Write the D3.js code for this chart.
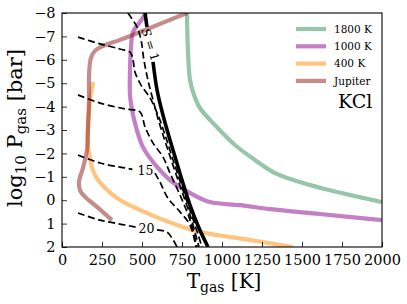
<!DOCTYPE html>
<html><head><meta charset="utf-8">
<script src="https://cdn.jsdelivr.net/npm/d3@7"></script>
<style>body{margin:0;background:#fff}svg{display:block}text{font-family:"DejaVu Serif","Liberation Serif",serif;fill:#000}</style>
</head><body><svg id="c" width="407" height="304"></svg>
<script>
// ---- data (T in K, log10 p in bar) ----
const xTicks=[0,250,500,750,1000,1250,1500,1750,2000];
const yTicks=[-8,-7,-6,-5,-4,-3,-2,-1,0,1,2];
const seriesNames=["1800 K","1000 K","400 K","Jupiter"];
const seriesColors=["#2e8b57","#8b008b","#ff8c00","#8b1a1a"];

const t1800=[781,787,800,825,862,956,1081,1206,1331,1550,1719,2000];
const p1800=[-8,-6.42,-5.14,-4.5,-3.94,-3.21,-2.36,-1.72,-1.16,-0.65,-0.35,0.08];

const t1000=[525,488,444,431,425,425,438,456,506,594,675,800,925,1112,1300,1612,2000];
const p1000=[-8,-7.62,-7.19,-6.5,-5.56,-4.5,-3.85,-3.3,-2.27,-1.42,-0.86,-0.31,0.08,0.21,0.38,0.59,0.85];

const t400=[194,175,162,162,181,206,269,362,531,719,862,1175,1444];
const p400=[-5.05,-4.28,-3.0,-2.36,-1.59,-1.08,-0.52,-0.01,0.55,1.06,1.36,1.7,2.0];

const tJup=[781,550,362,256,206,181,169,169,162,156,131,106,112,144,206,312];
const pJup=[-8,-7.36,-6.85,-6.59,-6.38,-6.08,-5.35,-4.28,-3.0,-2.15,-1.38,-0.78,-0.44,-0.14,0.21,0.85];

// S = 1 (thick solid), split around its label
const tS1a=[519,531];             const pS1a=[-8,-7.4];
const tS1b=[569,594,631,675,712.5,750,800,856,912.5];
const pS1b=[-5.91,-4.71,-3.64,-2.57,-1.72,-0.86,0.21,1.19,2.0];

// dashed contours
const tC5=[100,237.5,362.5,425,444,456,494,550,600,644,694,756,831,875];
const pC5=[-6.97,-6.68,-6.46,-6.33,-5.99,-5.48,-4.92,-4.37,-3.64,-2.79,-1.72,-0.44,1.06,2.0];
const tCv=[412,469,494,512,537,569,612,662,725,800,856];
const pCv=[-8,-7.4,-6.85,-5.99,-5.14,-4.28,-3.21,-2.15,-0.86,0.63,2.0];
const tC10=[100,237.5,394,487.5,519,569,631,675,737.5,800,844];
const pC10=[-4.5,-4.15,-3.9,-3.77,-3.13,-2.44,-1.85,-1.16,-0.22,0.85,2.0];
const tC15a=[100,237.5,394,440]; const pC15a=[-1.93,-1.59,-1.38,-1.32];
const tC15b=[581,612,662,737.5,800,837.5]; const pC15b=[-1.16,-0.78,-0.09,0.5,1.06,2.0];
const tC20a=[100,237.5,394,460]; const pC20a=[0.55,0.85,1.06,1.15];
const tC20b=[594,656,687.5,719]; const pC20b=[1.27,1.36,1.62,2.0];
const contourLabels=["15","20"];
const contourLabelT=[522,528]; const contourLabelP=[-1.27,1.2];

// ---- drawing ----
const svg=d3.select("#c");
const x=d3.scaleLinear().domain([0,2000]).range([62,382]);
const y=d3.scaleLinear().domain([-8,2]).range([13,247]);
const zip=(t,p)=>t.map((v,i)=>[v,p[i]]);
const line=d3.line().x(d=>x(d[0])).y(d=>y(d[1])).curve(d3.curveCatmullRom.alpha(0.5));

svg.append("defs").append("clipPath").attr("id","pc").append("rect")
  .attr("x",62).attr("y",13).attr("width",320).attr("height",234);
const g=svg.append("g").attr("clip-path","url(#pc)");

const series=[[t1800,p1800],[t1000,p1000],[t400,p400],[tJup,pJup]];
series.forEach((s,i)=>{
  g.append("path").attr("d",line(zip(s[0],s[1]))).attr("fill","none")
   .attr("stroke",seriesColors[i]).attr("stroke-opacity",0.5).attr("stroke-width",4.2);
});

[[tC5,pC5],[tCv,pCv],[tC10,pC10],[tC15a,pC15a],[tC15b,pC15b],[tC20a,pC20a],[tC20b,pC20b]].forEach(s=>{
  g.append("path").attr("d",line(zip(s[0],s[1]))).attr("fill","none")
   .attr("stroke","#000").attr("stroke-width",1.7).attr("stroke-dasharray","7,3.5");
});
[[tS1a,pS1a],[tS1b,pS1b]].forEach(s=>{
  g.append("path").attr("d",line(zip(s[0],s[1]))).attr("fill","none")
   .attr("stroke","#000").attr("stroke-width",3.6);
});

contourLabels.forEach((l,i)=>{
  svg.append("text").attr("x",x(contourLabelT[i])).attr("y",y(contourLabelP[i]))
    .attr("dy","0.36em").attr("text-anchor","middle").attr("font-size",12.5).text(l);
});
svg.append("text").attr("transform",`translate(${x(553)},${y(-6.65)}) rotate(72)`)
  .attr("text-anchor","middle").attr("dy","0.36em").attr("font-size",12)
  .html('<tspan font-style="italic">S</tspan> = 1');

// axes
const xMinor=d3.range(0,2001,50), yMinor=d3.range(-8,2.001,0.2);
const gx=svg.append("g").attr("transform","translate(0,247)");
gx.call(d3.axisBottom(x).tickValues(xMinor).tickSize(-2.5).tickFormat(""));
gx.call(d3.axisBottom(x).tickValues(xTicks).tickSize(-5).tickPadding(7.5).tickFormat(d3.format("")));
const gy=svg.append("g").attr("transform","translate(62,0)");
gy.call(d3.axisLeft(y).tickValues(yMinor).tickSize(-2.5).tickFormat(""));
gy.call(d3.axisLeft(y).tickValues(yTicks).tickSize(-5).tickPadding(6.5).tickFormat(d3.format("")));
svg.selectAll(".domain").remove();
svg.selectAll(".tick line").attr("stroke","#000").attr("stroke-width",0.8);
svg.selectAll(".tick text").attr("font-size",14.5);
svg.append("rect").attr("x",62).attr("y",13).attr("width",320).attr("height",234)
  .attr("fill","none").attr("stroke","#000").attr("stroke-width",1.1);

// legend
seriesNames.forEach((n,i)=>{
  const yy=29+i*17.3;
  svg.append("line").attr("x1",296).attr("x2",326).attr("y1",yy).attr("y2",yy)
    .attr("stroke",seriesColors[i]).attr("stroke-opacity",0.5).attr("stroke-width",4.2);
  svg.append("text").attr("x",334).attr("y",yy).attr("dy","0.36em").attr("font-size",10.5).text(n);
});
svg.append("text").attr("x",338).attr("y",108).attr("font-size",19).text("KCl");

// axis titles
svg.append("text").attr("x",224).attr("y",288).attr("text-anchor","middle").attr("font-size",20)
  .html('T<tspan font-size="14" dy="4">gas</tspan><tspan dy="-4"> [K]</tspan>');
svg.append("text").attr("transform","translate(22,128) rotate(-90)").attr("text-anchor","middle").attr("font-size",21)
  .html('log<tspan font-size="15" dy="4">10</tspan><tspan dy="-4"> P</tspan><tspan font-size="15" dy="4">gas</tspan><tspan dy="-4"> [bar]</tspan>');
</script></body></html>
